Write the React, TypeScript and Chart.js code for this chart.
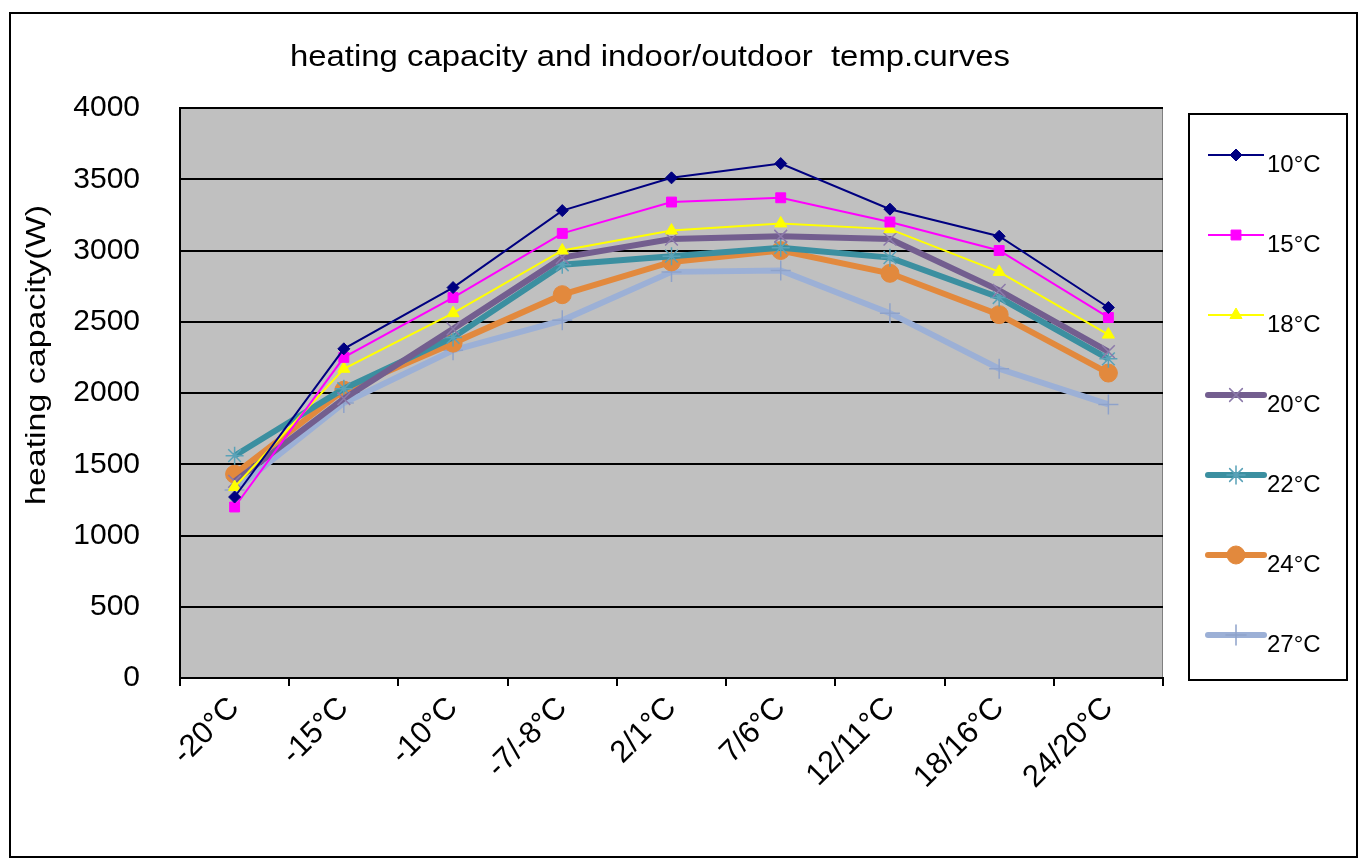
import React, { useEffect, useRef } from 'react';
import { Chart, registerables } from 'chart.js';
import { drawPoint } from 'chart.js/helpers';

Chart.register(...registerables);

const FONT = '"Liberation Sans", Arial, sans-serif';

const categories = ['-20°C', '-15°C', '-10°C', '-7/-8°C', '2/1°C', '7/6°C', '12/11°C', '18/16°C', '24/20°C'];
const seriesLabels = ['10°C', '15°C', '18°C', '20°C', '22°C', '24°C', '27°C'];
const series10 = [1270, 2310, 2740, 3280, 3510, 3610, 3290, 3100, 2600];
const series15 = [1200, 2250, 2670, 3120, 3340, 3370, 3200, 3000, 2530];
const series18 = [1340, 2170, 2560, 3000, 3140, 3190, 3150, 2850, 2410];
const series20 = [1380, 1960, 2450, 2950, 3080, 3100, 3080, 2720, 2290];
const series22 = [1560, 2030, 2390, 2900, 2960, 3020, 2950, 2670, 2240];
const series24 = [1430, 2020, 2350, 2690, 2920, 3000, 2840, 2550, 2140];
const series27 = [1320, 1930, 2300, 2510, 2850, 2860, 2560, 2170, 1920];
const yTicks = { min: 0, max: 4000, step: 500 };
const titleText = 'heating capacity and indoor/outdoor  temp.curves';
const yTitleText = 'heating capacity(W)';

const styles = [
  { color: '#000080', width: 2, point: 'rectRot', radius: 6, pColor: '#000080', pWidth: 1 },
  { color: '#FF00FF', width: 2, point: 'rect', radius: 7, pColor: '#FF00FF', pWidth: 1 },
  { color: '#FFFF00', width: 2, point: 'triangle', radius: 7, pColor: '#FFFF00', pWidth: 1 },
  { color: '#735E8F', width: 6, point: 'crossRot', radius: 9, pColor: '#8C7AAA', pWidth: 1.5 },
  { color: '#3B8FA0', width: 6, point: 'star', radius: 9, pColor: '#5AA2B8', pWidth: 1.5 },
  { color: '#E2893D', width: 6, point: 'circle', radius: 9, pColor: '#E2893D', pWidth: 1 },
  { color: '#9CB0D6', width: 6, point: 'cross', radius: 10, pColor: '#8EA2CA', pWidth: 1.5 },
];

const decorPlugin = {
  id: 'decor',
  beforeDraw(chart: any) {
    const { ctx, chartArea: a } = chart;
    ctx.save();
    ctx.fillStyle = '#ffffff';
    ctx.fillRect(0, 0, chart.width, chart.height);
    ctx.fillStyle = '#C0C0C0';
    ctx.fillRect(a.left, a.top, a.right - a.left, a.bottom - a.top);
    ctx.strokeStyle = '#808080';
    ctx.lineWidth = 1;
    ctx.strokeRect(a.left + 0.5, a.top + 0.5, a.right - a.left - 1, a.bottom - a.top - 1);
    ctx.restore();
  },
  afterDraw(chart: any) {
    const { ctx } = chart;
    ctx.save();
    // outer frame
    ctx.strokeStyle = '#000';
    ctx.lineWidth = 2;
    ctx.strokeRect(10, 13, 1347, 844);
    // title (stretched to match reference width)
    ctx.fillStyle = '#000';
    ctx.font = `30px ${FONT}`;
    ctx.textAlign = 'center';
    ctx.textBaseline = 'middle';
    const w = ctx.measureText(titleText).width;
    ctx.save();
    ctx.translate(650, 58);
    ctx.scale(720 / w, 1);
    ctx.fillText(titleText, 0, 0);
    ctx.restore();
    // y axis title
    ctx.save();
    ctx.translate(37, 355);
    ctx.rotate(-Math.PI / 2);
    ctx.font = `31px ${FONT}`;
    ctx.textAlign = 'center';
    ctx.textBaseline = 'middle';
    const wy = ctx.measureText(yTitleText).width;
    ctx.scale(300 / wy, 0.9);
    ctx.fillText(yTitleText, 0, 0);
    ctx.restore();
    // legend box
    ctx.strokeStyle = '#000';
    ctx.lineWidth = 2;
    ctx.strokeRect(1189, 114, 158, 566);
    chart.data.datasets.forEach((ds: any, i: number) => {
      const y = 155 + i * 80;
      ctx.strokeStyle = ds.borderColor;
      ctx.lineWidth = ds.borderWidth;
      ctx.lineCap = ds.borderWidth > 3 ? 'round' : 'butt';
      ctx.beginPath();
      ctx.moveTo(1208, y);
      ctx.lineTo(1264, y);
      ctx.stroke();
      ctx.fillStyle = ds.pointBackgroundColor;
      ctx.strokeStyle = ds.pointBorderColor;
      ctx.lineWidth = ds.pointBorderWidth;
      drawPoint(ctx, { pointStyle: ds.pointStyle, radius: ds.pointRadius, rotation: 0, borderWidth: ds.pointBorderWidth }, 1236, y);
      ctx.fillStyle = '#000';
      ctx.font = `24px ${FONT}`;
      ctx.textAlign = 'left';
      ctx.textBaseline = 'middle';
      ctx.fillText(ds.label, 1267, y + 10);
    });
    ctx.restore();
  },
};

export default function App() {
  const ref = useRef<HTMLCanvasElement | null>(null);
  useEffect(() => {
    if (!ref.current) return;
    const all = [series10, series15, series18, series20, series22, series24, series27];
    const chart = new Chart(ref.current, {
      type: 'line',
      data: {
        labels: categories,
        datasets: all.map((d, i) => ({
          label: seriesLabels[i],
          data: d,
          borderColor: styles[i].color,
          backgroundColor: styles[i].color,
          borderWidth: styles[i].width,
          pointStyle: styles[i].point as any,
          pointRadius: styles[i].radius,
          pointBackgroundColor: styles[i].pColor,
          pointBorderColor: styles[i].pColor,
          pointBorderWidth: styles[i].pWidth,
          tension: 0,
          fill: false,
        })),
      },
      options: {
        animation: false,
        responsive: false,
        layout: { padding: { left: 10, right: 202, top: 108, bottom: 0 } },
        plugins: { legend: { display: false }, tooltip: { enabled: false }, title: { display: false } },
        scales: {
          x: {
            offset: true,
            ticks: { color: '#000', font: { family: FONT, size: 31 }, maxRotation: 45, minRotation: 45, autoSkip: false, padding: 4 },
            grid: { display: true, drawOnChartArea: false, drawTicks: true, tickLength: 8, color: '#000', lineWidth: 2, offset: true },
            border: { display: true, color: '#000', width: 2 },
            afterFit: (s: any) => { s.height = 182; },
          },
          y: {
            min: yTicks.min,
            max: yTicks.max,
            ticks: { stepSize: yTicks.step, color: '#000', font: { family: FONT, size: 30 }, padding: 40, callback: (v: any) => String(v) },
            grid: { color: '#000', lineWidth: 2, drawTicks: false },
            border: { display: true, color: '#000', width: 2 },
            afterFit: (s: any) => { s.width = 170; },
          },
        },
      },
      plugins: [decorPlugin],
    });
    return () => chart.destroy();
  }, []);
  return (
    <div style={{ position: 'fixed', left: 0, top: 0, width: 1365, height: 860, background: '#fff' }}>
      <canvas ref={ref} width={1365} height={860} style={{ width: 1365, height: 860, display: 'block' }} />
    </div>
  );
}
